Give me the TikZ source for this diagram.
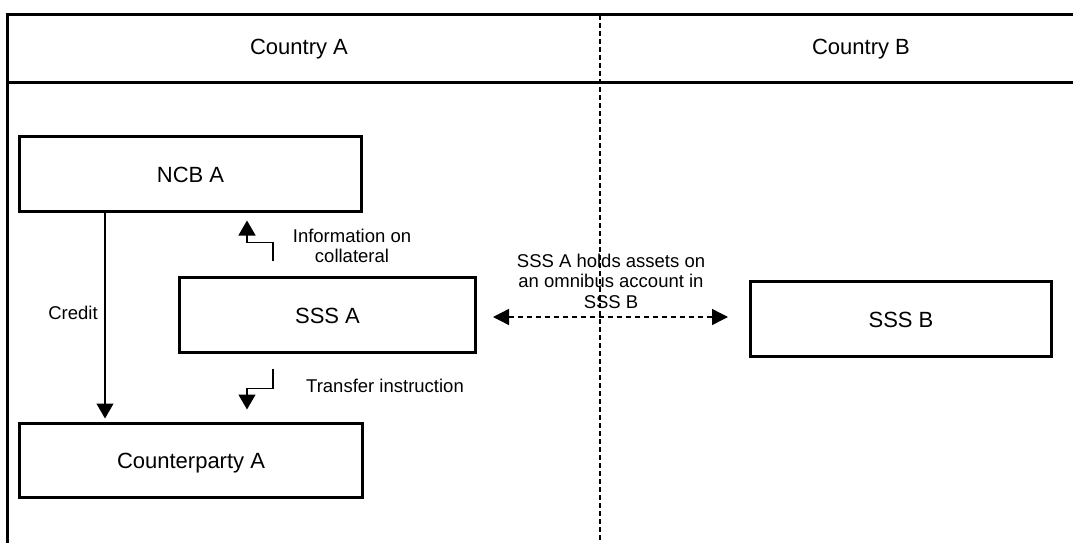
\documentclass[tikz,border=0pt]{standalone}
\usepackage{fontspec}
\setmainfont{Liberation Sans}
\usetikzlibrary{arrows.meta,calc}
\begin{document}
\begin{tikzpicture}[x=1pt,y=-1pt,
  box/.style={draw, line width=3pt, inner sep=0pt, font=\fontsize{22}{26}\selectfont, text height=16pt, text depth=0pt},
  hdr/.style={font=\fontsize{22}{26}\selectfont, inner sep=0pt},
  lbl/.style={font=\fontsize{18.5}{20.5}\selectfont, align=center, inner sep=0pt},
  frame/.style={line width=3pt},
  conn/.style={line width=1.4pt, -{Triangle[width=17pt,length=15pt]}},
  dconn/.style={line width=1.4pt, dash pattern=on 5pt off 4pt, {Triangle[width=16pt,length=16pt]}-{Triangle[width=16pt,length=16pt]}},
]
\useasboundingbox (0,0) rectangle (1073,543);
% frame
\draw[frame] (5.5,15) -- (1073,15);
\draw[frame] (5.5,82) -- (1073,82);
\draw[frame] (7,13.5) -- (7,543);
\draw[line width=1.3pt, dash pattern=on 5pt off 3pt] (600,15) -- (600,543);
% headers
\node[hdr, anchor=base] (ca) at (299,55) {Country A};
\node[hdr, anchor=base] (cb) at (861,55) {Country B};
% boxes
\node[box, minimum width=342pt, minimum height=75pt] (ncb) at (190.5,174) {NCB A};
\node[box, minimum width=296pt, minimum height=75pt] (sssa) at (327.5,315) {SSS A};
\node[box, minimum width=301pt, minimum height=75pt] (sssb) at (901,319) {SSS B};
\node[box, minimum width=343pt, minimum height=74pt] (cp) at (191,460.5) {Counterparty A};
% connectors
\draw[line width=1.2pt, -{Triangle[width=17pt,length=15pt]}] ($(ncb.south)+(-85.5,0)$) -- ($(cp.north)+(-86,-3.5)$);
\node[lbl, anchor=base] (credit) at (73,319) {Credit};
\draw[conn] ($(sssa.north)+(-54.5,-15)$) |- ($(ncb.south)+(56.5,29.5)$) -- ($(ncb.south)+(56.5,7.5)$);
\node[lbl, anchor=north] (info) at (352,228.5) {Information on\\collateral};
\draw[conn] ($(sssa.south)+(-54.5,14.5)$) |- ($(cp.north)+(56,-33.5)$) -- ($(cp.north)+(56,-12.5)$);
\node[lbl, anchor=base] (transfer) at (385,392) {Transfer instruction};
\draw[dconn] ($(sssa.east)+(16,2)$) -- ($(sssb.west)+(-21,-2)$);
\node[lbl, anchor=north] (omni) at (611,253.5) {SSS A holds assets on\\an omnibus account in\\SSS B};
\end{tikzpicture}
\end{document}
